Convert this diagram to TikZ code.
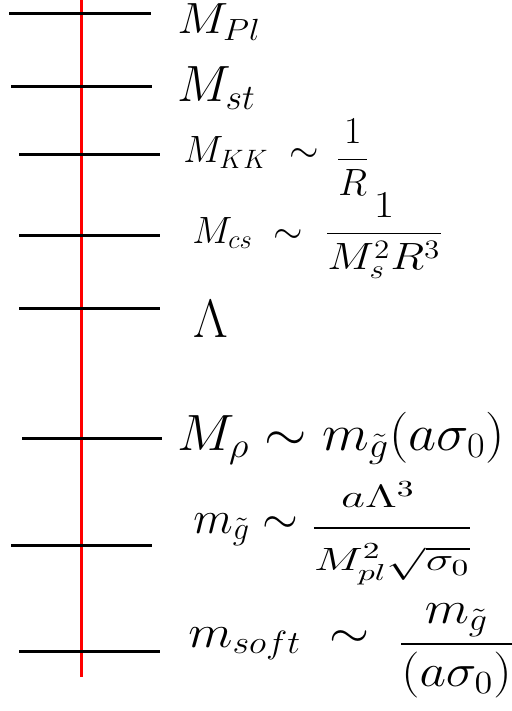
\RequirePackage{fix-cm}
\documentclass[tikz,border=0pt]{standalone}
\usepackage{amsmath}
\usepackage{graphicx}
\usetikzlibrary{positioning}

\begin{document}
\begin{tikzpicture}[x=0.5pt,y=-0.5pt,
  tick/.style={line width=1.5pt},
  axis/.style={line width=1.5pt,red},
  lvl/.style={anchor=base west,inner sep=0pt}]
\useasboundingbox (0,0) rectangle (511,711);

% --- red axis -----------------------------------------------------------
\coordinate (ax-top) at (81,0);
\coordinate (ax-bot) at (81,677);
\draw[axis] (ax-top) -- (ax-bot);

% --- M_Pl ---------------------------------------------------------------
\coordinate (pl-l) at (9,14);  \coordinate (pl-r) at (151,14);
\draw[tick] (pl-l) -- (pl-r);
\node[lvl,font=\fontsize{23}{28}\selectfont] (pl) at (177,34) {\scalebox{1.05}[0.95]{$M_{Pl}$}};

% --- M_st ---------------------------------------------------------------
\coordinate (st-l) at (11,87); \coordinate (st-r) at (152,87);
\draw[tick] (st-l) -- (st-r);
\node[lvl,font=\fontsize{25.5}{30}\selectfont] (st) at (177,102) {$M_{st}$};

% --- M_KK ---------------------------------------------------------------
\coordinate (kk-l) at (19,155); \coordinate (kk-r) at (160,155);
\draw[tick] (kk-l) -- (kk-r);
\node[lvl,font=\fontsize{19}{23}\selectfont] (kk) at (183,163)
  {$M_{KK}\;\sim\,\raisebox{-3pt}{$\dfrac{1}{R}$}$};

% --- M_cs ---------------------------------------------------------------
\coordinate (cs-l) at (19,235); \coordinate (cs-r) at (160,235);
\draw[tick] (cs-l) -- (cs-r);
\node[lvl,font=\fontsize{19}{23}\selectfont] (cs) at (192,243)
  {$M_{cs}\;\sim\;\scalebox{1.17}[1]{$\dfrac{1}{M_s^2R^3}$}$};

% --- Lambda -------------------------------------------------------------
\coordinate (lam-l) at (19,308); \coordinate (lam-r) at (160,308);
\draw[tick] (lam-l) -- (lam-r);
\node[lvl,font=\fontsize{27}{32}\selectfont] (lam) at (193,337) {$\Lambda$};

% --- M_rho --------------------------------------------------------------
\coordinate (rho-l) at (22,438); \coordinate (rho-r) at (162,438);
\draw[tick] (rho-l) -- (rho-r);
\node[lvl,font=\fontsize{25.5}{30}\selectfont] (rho) at (177,450)
  {\scalebox{1.07}[1]{$M_\rho\sim m_{\tilde g}(a\sigma_0)$}};

% --- gaugino mass -------------------------------------------------------
\coordinate (gl-l) at (11,545); \coordinate (gl-r) at (152,545);
\draw[tick] (gl-l) -- (gl-r);
\node[lvl,font=\fontsize{23}{28}\selectfont] (gl) at (193,533)
  {$m_{\tilde g}\sim\raisebox{-3pt}{$\dfrac{\scalebox{1.45}[1]{$\scriptstyle a\Lambda^3$}}{\scalebox{1.45}[1]{$\scriptstyle M_{pl}^2\sqrt{\sigma_0}$}}$}$};

% --- soft masses --------------------------------------------------------
\coordinate (sf-l) at (19,651); \coordinate (sf-r) at (160,651);
\draw[tick] (sf-l) -- (sf-r);
\node[lvl,font=\fontsize{23}{28}\selectfont] (sf) at (188,647)
  {\scalebox{1.12}[1]{$m_{soft}\;\sim\;\raisebox{-4pt}{$\dfrac{m_{\tilde g}}{(a\sigma_0)}$}$}};
\end{tikzpicture}
\end{document}
